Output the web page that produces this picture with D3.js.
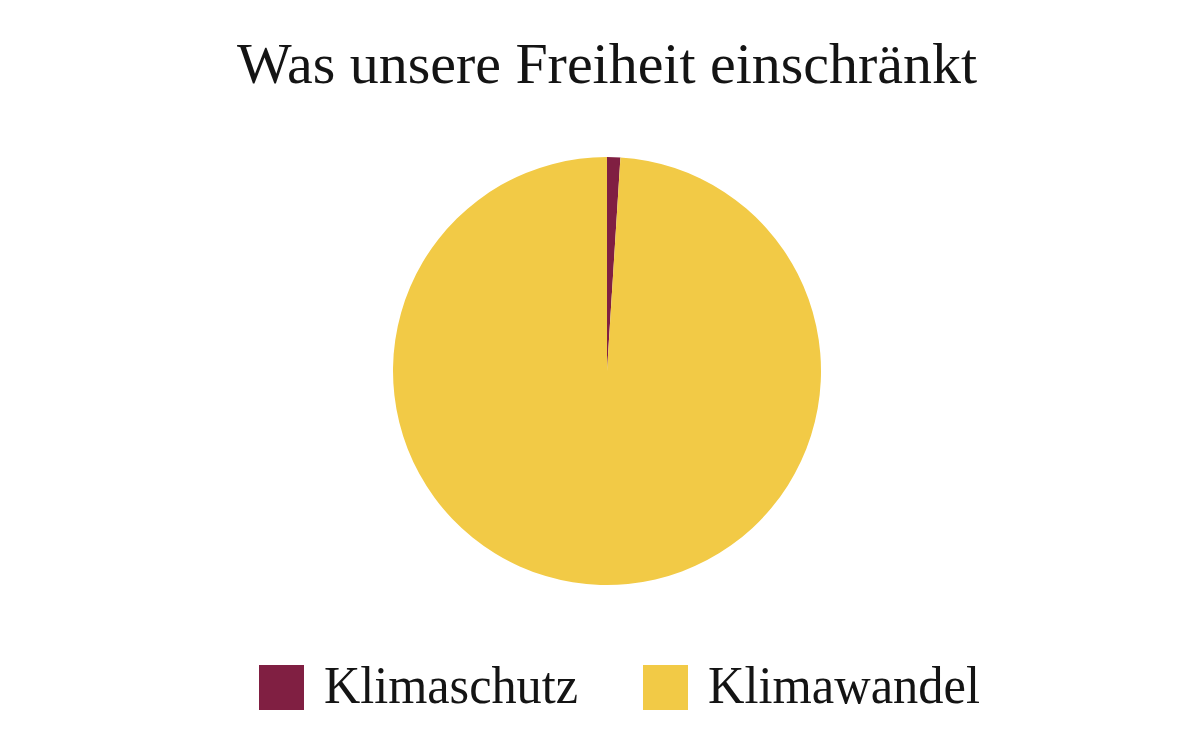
<!DOCTYPE html>
<html lang="de">
<head>
<meta charset="UTF-8">
<title>Was unsere Freiheit einschränkt</title>
<script src="https://d3js.org/d3.v7.min.js"></script>
<style>
  body { margin: 0; background: #fff; }
  text { font-family: "Liberation Serif", "DejaVu Serif", serif; fill: #141414; }
</style>
</head>
<body>
<svg width="1200" height="750"></svg>
<script>
// data
const categories = ["Klimaschutz", "Klimawandel"];
const values = [1, 99];
const colors = ["#801f42", "#f2ca46"];
const title = "Was unsere Freiheit einschränkt";

const svg = d3.select("svg");

svg.append("text")
    .attr("x", 607).attr("y", 83)
    .attr("text-anchor", "middle")
    .attr("font-size", 58)
    .attr("textLength", 740)
    .attr("lengthAdjust", "spacingAndGlyphs")
    .text(title);

const color = d3.scaleOrdinal().domain(categories).range(colors);

const pie = d3.pie().sort(null).value(d => d.value);
const arc = d3.arc().innerRadius(0).outerRadius(214);

const data = categories.map((c, i) => ({ name: c, value: values[i] }));

svg.append("g")
    .attr("transform", "translate(607,371)")
    .selectAll("path")
    .data(pie(data))
    .join("path")
    .attr("d", arc)
    .attr("fill", d => color(d.data.name));

// legend
const legendX = [259, 643];
const legendW = [254, 272];
const legend = svg.append("g").selectAll("g")
    .data(categories)
    .join("g")
    .attr("transform", (d, i) => `translate(${legendX[i]},665)`);

legend.append("rect")
    .attr("width", 45).attr("height", 45)
    .attr("fill", d => color(d));

legend.append("text")
    .attr("x", 65).attr("y", 38)
    .attr("font-size", 52)
    .attr("textLength", (d, i) => legendW[i])
    .attr("lengthAdjust", "spacingAndGlyphs")
    .text(d => d);
</script>
</body>
</html>
